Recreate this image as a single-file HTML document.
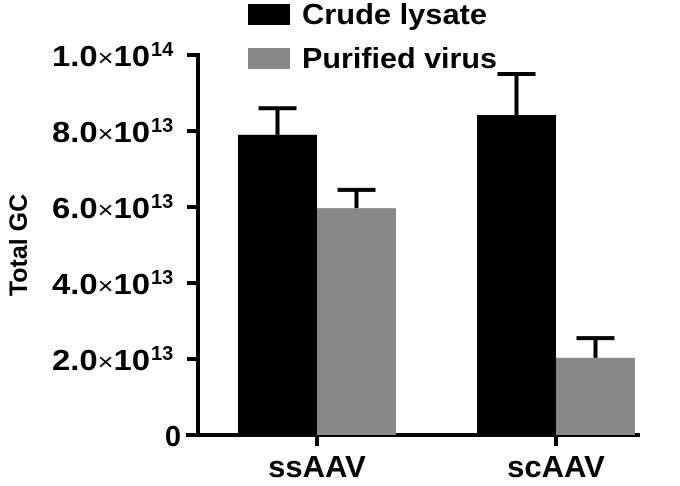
<!DOCTYPE html>
<html><head><meta charset="utf-8"><style>
body{margin:0;background:#fff}
svg text{font-family:"Liberation Sans",Arial,sans-serif;font-weight:bold}
</style></head><body>
<svg id="c" width="680" height="481">
<g id="axes"></g><g id="bars"></g>
<g>
<rect x="248" y="4" width="42" height="21" fill="#000"/>
<text x="302" y="24" font-size="29" textLength="185" lengthAdjust="spacingAndGlyphs">Crude lysate</text>
<rect x="248" y="48" width="42" height="21" fill="#888"/>
<text x="302" y="68" font-size="29" textLength="195" lengthAdjust="spacingAndGlyphs">Purified virus</text>
</g>
<text transform="translate(27,245) rotate(-90)" text-anchor="middle" font-size="25">Total GC</text>
</svg>
<script>
const categories=["ssAAV","scAAV"];
const crude=[7.9,8.42];
const crudeErr=[0.7,1.08];
const purified=[5.97,2.03];
const purifiedErr=[0.48,0.52];
const yTicks=[0,2,4,6,8,10];
const yTickMant=["0","2.0","4.0","6.0","8.0","1.0"];
const yTickExp=["","13","13","13","13","14"];
const NS="http://www.w3.org/2000/svg";
const y0=435,pxPer=38;
function y(v){return y0-v*pxPer;}
const groupCenter=[317,556],bw=79;
function mk(t,a,p){const e=document.createElementNS(NS,t);for(const k in a)e.setAttribute(k,a[k]);p.appendChild(e);return e;}
const ax=document.getElementById('axes'),bg=document.getElementById('bars');
let l=mk('line',{x1:198,y1:y(10)-2,x2:198,y2:y0+2,stroke:'#000','stroke-width':4},ax);

l=mk('line',{x1:186,y1:y0,x2:640,y2:y0,stroke:'#000','stroke-width':4},ax);

yTicks.forEach((t,i)=>{
 const tk=mk('line',{x1:187,y1:y(t),x2:198,y2:y(t),stroke:'#000','stroke-width':4},ax);
 
 let tx;
 if(yTickExp[i]){
  tx=mk('text',{x:52,y:y(t)+11,'font-size':29,textLength:98,lengthAdjust:'spacingAndGlyphs'},ax);
  const a=mk('tspan',{},tx);a.textContent=yTickMant[i];
  const b=mk('tspan',{'font-weight':'normal','font-size':24},tx);b.textContent='\u00d7';
  const c=mk('tspan',{},tx);c.textContent='10';
 } else {tx=mk('text',{x:181,y:y(t)+11,'text-anchor':'end','font-size':29},ax);tx.textContent=yTickMant[i];}
 
 if(yTickExp[i]){const ex=mk('text',{x:151,y:y(t)+1,'font-size':20},ax);ex.textContent=yTickExp[i];
 }
});
categories.forEach((c,i)=>{
 const cx=groupCenter[i];
 const tk=mk('line',{x1:cx,y1:y0,x2:cx,y2:y0+11,stroke:'#000','stroke-width':4},ax);
 
 const tx=mk('text',{x:cx,y:477,'text-anchor':'middle','font-size':31},ax);tx.textContent=c;
 
 [[crude,crudeErr,'#000',cx-bw,'crude'],[purified,purifiedErr,'#888',cx,'purified']].forEach(s=>{
  const v=s[0][i],e=s[1][i],bx=s[3],mid=bx+bw/2;
  const eb=mk('line',{x1:mid,y1:y(v),x2:mid,y2:y(v+e),stroke:'#000','stroke-width':4},bg);
  
  const cap=mk('line',{x1:mid-19,y1:y(v+e),x2:mid+19,y2:y(v+e),stroke:'#000','stroke-width':4},bg);
  
  const r=mk('rect',{x:bx,y:y(v),width:bw,height:y0-y(v),fill:s[2]},bg);
  
 });
});
</script>
</body></html>
